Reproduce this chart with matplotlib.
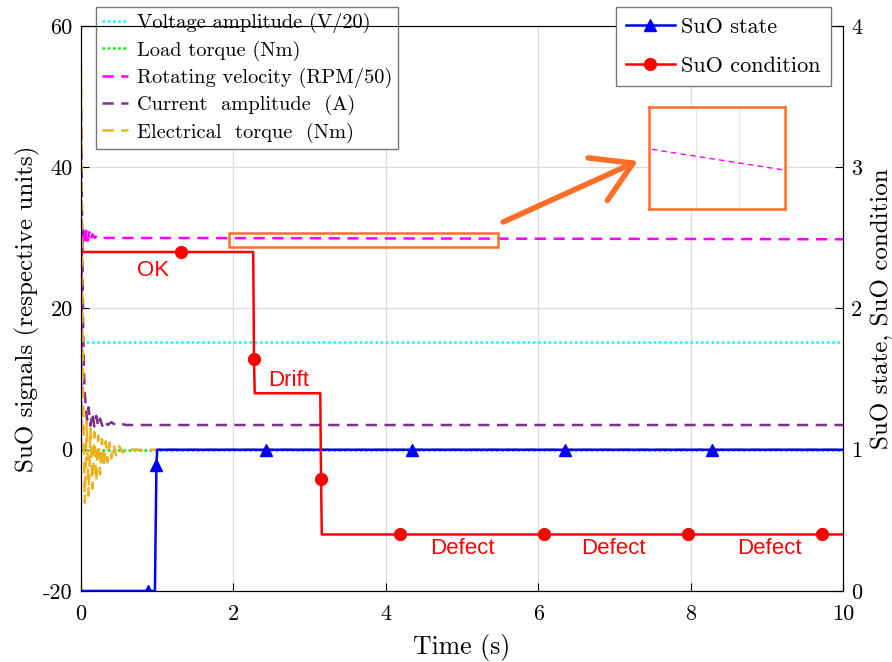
import matplotlib
matplotlib.use("Agg")
import matplotlib.pyplot as plt
from matplotlib.patches import Rectangle
from matplotlib.ticker import FuncFormatter

plt.rcParams['font.family'] = 'cmr10'
plt.rcParams['mathtext.fontset'] = 'cm'

# SuO signals (left axis, respective units)
volt_t = [0, 10]
volt_v = [15.3, 15.3]

load_t = [0, 10]
load_v = [0, 0]

speed_t = [0, 0.01, 0.03, 0.05, 0.07, 0.09, 0.11, 0.13, 0.15, 0.18, 0.21, 0.25, 0.3, 10]
speed_v = [0, 27.5, 31.5, 29.0, 31.0, 29.6, 30.8, 29.8, 30.5, 30.0, 30.3, 30.0, 30.0, 29.8]

current_t = [0, 0.01, 0.02, 0.03, 0.045, 0.06, 0.08, 0.10, 0.125, 0.15, 0.175,
             0.20, 0.225, 0.25, 0.28, 0.31, 0.35, 0.40, 0.45, 0.50, 0.60, 10]
current_v = [48, 38, 26, 16, 9, 6.5, 4.2, 6.0, 3.4, 5.2, 3.3, 4.8, 3.3, 4.4, 3.4,
             4.1, 3.5, 3.9, 3.5, 3.7, 3.5, 3.5]

torque_t = [0, 0.01, 0.02, 0.03, 0.05, 0.075, 0.10, 0.125, 0.15, 0.175, 0.20,
            0.225, 0.25, 0.275, 0.30, 0.325, 0.35, 0.375, 0.40, 0.43, 0.46, 0.50,
            0.55, 0.60, 0.70, 0.80, 10]
torque_v = [54, 35, 18, 6, -7.5, 4, -6.5, 3, -5.5, 2.5, -4.5, 2, -3.5, 1.5, -2.5,
            1.2, -1.8, 1, -1.2, 0.7, -0.8, 0.5, -0.4, 0.2, 0, 0, 0]

# SuO state / condition (right axis)
state_t = [0, 0.88, 0.97, 0.99, 1.0, 2.43, 4.35, 6.35, 8.28, 10]
state_v = [0, 0, 0, 0.89, 1, 1, 1, 1, 1, 1]
state_marks = [1, 3, 5, 6, 7, 8]

cond_t = [0, 1.31, 2.26, 2.27, 2.28, 3.14, 3.15, 3.16, 4.19, 6.07, 7.97, 9.73, 10]
cond_v = [2.4, 2.4, 2.4, 1.64, 1.4, 1.4, 0.79, 0.4, 0.4, 0.4, 0.4, 0.4, 0.4]
cond_marks = [1, 3, 6, 8, 9, 10, 11]

cond_labels = ['OK', 'Drift', 'Defect', 'Defect', 'Defect']
cond_label_t = [0.95, 2.73, 5.01, 6.99, 9.03]
cond_label_v = [2.27, 1.49, 0.30, 0.30, 0.30]

fig = plt.figure(figsize=(8.92, 6.62), dpi=100)
ax = fig.add_axes([0.0908, 0.1073, 0.8543, 0.8534])
ax2 = ax.twinx()

dash = (0, (4.5, 3))
dot = (0, (1, 1.1))
l1, = ax.plot(volt_t, volt_v, color='#00FFFF', ls=dot, lw=1.8, label='Voltage amplitude (V/20)')
l2, = ax.plot(load_t, load_v, color='#00EE00', ls=dot, lw=1.8, label='Load torque (Nm)')
l3, = ax.plot(speed_t, speed_v, color='#FF00FF', ls=dash, lw=1.8, label='Rotating velocity (RPM/50)')
l4, = ax.plot(current_t, current_v, color='#7E2F8E', ls=dash, lw=1.8, label='Current  amplitude  (A)')
l5, = ax.plot(torque_t, torque_v, color='#EDB120', ls=dash, lw=1.8, label='Electrical  torque  (Nm)')

plain = FuncFormatter(lambda v, p: '%d' % v)
ax.set_xlim(0, 10)
ax.set_ylim(-20, 60)
ax.set_xticks(range(0, 11, 2))
ax.set_yticks(range(-20, 61, 20))
ax.xaxis.set_major_formatter(plain)
ax.yaxis.set_major_formatter(plain)
ax.grid(True, color='#dcdcdc', lw=0.9)
ax.set_axisbelow(True)
ax.tick_params(direction='in', length=6, labelsize=16)
ax.tick_params(axis='x', pad=10)
ax.tick_params(axis='y', pad=6)
ax.set_xlabel('Time (s)', fontsize=18.5, labelpad=7)
ax.set_ylabel('SuO signals (respective units)', fontsize=18, labelpad=2)

ax2.plot(state_t, state_v, color='#0000FF', lw=1.8, marker='^', ms=8.5,
         markevery=state_marks, label='SuO state')
ax2.plot(cond_t, cond_v, color='#FF0000', lw=1.8, marker='o', ms=8.5,
         markevery=cond_marks, label='SuO condition')
ax2.set_ylim(0, 4)
ax2.set_yticks(range(0, 5))
ax2.yaxis.set_major_formatter(plain)
ax2.tick_params(direction='in', length=6, labelsize=16, pad=6)
ax2.set_ylabel('SuO state, SuO condition', fontsize=18, labelpad=6)

for s, tx, vy in zip(cond_labels, cond_label_t, cond_label_v):
    ax2.text(tx, vy, s, color='#FF0000', fontsize=16, family='Liberation Sans',
             ha='center', va='center')

# highlighted velocity window and pointer to the zoomed view
hl = '#FF6E28'
ax.add_patch(Rectangle((1.94, 28.7), 3.53, 2.0, fill=False, ec=hl, lw=1.8, zorder=5))
ax.annotate('', xy=(7.31, 40.9), xytext=(5.54, 32.25),
            arrowprops=dict(arrowstyle='->,head_length=0.7,head_width=0.42',
                            color=hl, lw=4, mutation_scale=40,
                            shrinkA=0, shrinkB=0))

leg1 = ax.legend(handles=[l1, l2, l3, l4, l5], loc='upper left',
                 bbox_to_anchor=(0.0197, 1.0336), fontsize=14.7, handlelength=1.25,
                 labelspacing=0.35, borderpad=0.3, handletextpad=0.45,
                 fancybox=False, framealpha=1, edgecolor='#777777', borderaxespad=0)
leg1.get_frame().set_linewidth(1.0)

leg2 = ax2.legend(loc='upper right', bbox_to_anchor=(0.984, 1.0336), fontsize=16,
                  handlelength=2.2, labelspacing=0.9, borderpad=0.45,
                  handletextpad=0.3, fancybox=False, framealpha=1,
                  edgecolor='#777777', borderaxespad=0)
leg2.get_frame().set_linewidth(1.0)

# zoomed view of the velocity
axz = fig.add_axes([0.7276, 0.6843, 0.1525, 0.1541])
axz.plot(speed_t, speed_v, color='#FF00FF', ls=(0, (4, 3)), lw=1.0)
axz.set_xlim(1.9, 5.08)
axz.set_ylim(29.782, 30.096)
axz.set_xticks([3, 4])
axz.set_yticks([])
axz.grid(True, color='#e6e6e6', lw=0.8)
axz.tick_params(length=0, labelbottom=False)
for sp in axz.spines.values():
    sp.set_color(hl)
    sp.set_linewidth(1.8)

fig.savefig('out.png', dpi=100)
